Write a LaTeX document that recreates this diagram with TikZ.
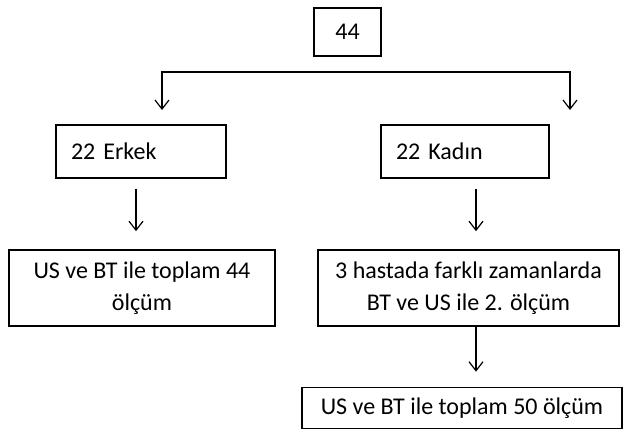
\documentclass[tikz,border=0pt]{standalone}
\usepackage{fontspec}
\setmainfont{Carlito}
\usetikzlibrary{arrows.meta}
\tikzset{>={Straight Barb[length=9pt,width=14pt]}}

\begin{document}
\begin{tikzpicture}[x=1pt, y=-1pt,
  box/.style={draw, line width=1.6pt, align=center, inner sep=0pt,
    font=\fontsize{24}{32}\selectfont},
  arr/.style={->, line width=1.2pt}]

\useasboundingbox (0,0) rectangle (625,431); %% page size

\node[box, minimum width=67pt, minimum height=48pt] (n44) at (347.5,32) {44};

\node[box, minimum width=170pt, minimum height=53pt, text width=140pt,
  align=left] (erkek) at (141,151.5) {22 Erkek};
\node[box, minimum width=168pt, minimum height=53pt, text width=138pt,
  align=left] (kadin) at (465,151.5) {22 Kad\i n};

\node[box, minimum width=266pt, minimum height=76pt] (olcum44) at (142,288)
  {US ve BT ile toplam 44\\ölçüm};
\node[box, minimum width=301pt, minimum height=76pt] (hasta) at (468.5,288)
  {3 hastada farkl\i{} zamanlarda\\BT ve US ile 2. ölçüm};
\node[box, minimum width=320pt, minimum height=41pt] (olcum50) at (462,408)
  {US ve BT ile toplam 50 ölçüm};

%% split below the top box
\coordinate (split) at (347.5,72);
\coordinate (ltip) at (162,110);
\coordinate (rtip) at (570,110);
\draw[<->, line width=1.2pt] (ltip) |- (split) -| (rtip);

\draw[arr] ([shift={(-5,10)}]erkek.south) -- ([shift={(-6,-18)}]olcum44.north);
\draw[arr] ([shift={(11,10)}]kadin.south) -- ([shift={(7.5,-18)}]hasta.north);
\draw[arr] ([shift={(7.5,0)}]hasta.south) -- ([shift={(14,-15)}]olcum50.north);

\end{tikzpicture}
\end{document}
